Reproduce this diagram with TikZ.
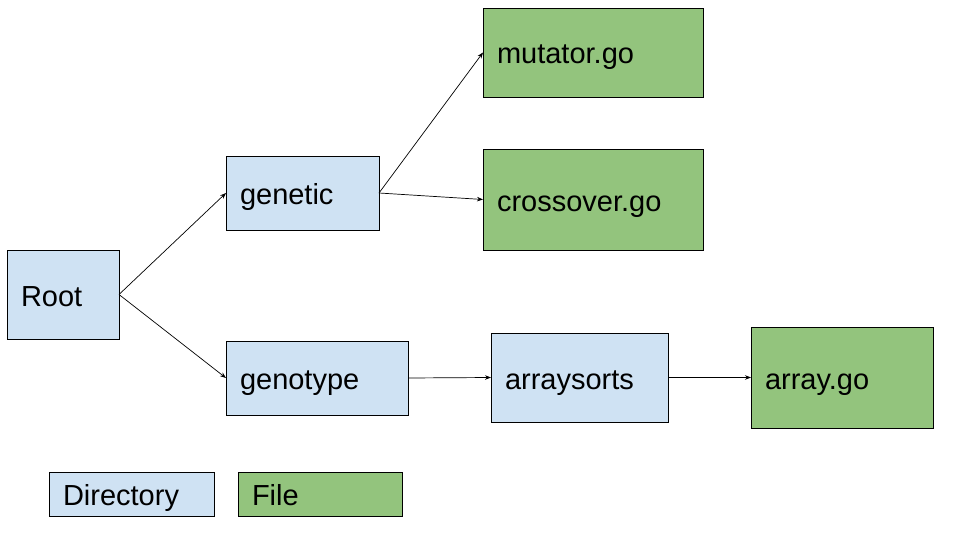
\documentclass[tikz,border=0pt]{standalone}
\usepackage{fontspec}
\setmainfont{Liberation Sans}
\usetikzlibrary{arrows.meta, positioning}
\definecolor{dirblue}{HTML}{CFE2F3}
\definecolor{filegreen}{HTML}{93C47D}

\begin{document}
\begin{tikzpicture}[
    x=1pt, y=-1pt,
    box/.style={draw, line width=0.8pt, anchor=north west, outer sep=0pt, inner xsep=14pt, text height=23pt, text depth=0pt, align=left, font=\fontsize{29}{33}\selectfont},
    dir/.style={box, fill=dirblue},
    file/.style={box, fill=filegreen},
    every edge/.style={draw, -{Stealth[length=6pt, width=4.5pt]}, line width=0.7pt}
]
    \useasboundingbox (0,0) rectangle (960,540);

    % Directories
    \node[dir, minimum width=112pt, minimum height=89pt, text width=84pt] (root) at (7,250) {Root};
    \node[dir, minimum width=153pt, minimum height=74pt, text width=125pt] (genetic) at (226,156) {genetic};
    \node[dir, minimum width=182pt, minimum height=74pt, text width=154pt] (genotype) at (226,341) {genotype};
    \node[dir, minimum width=177pt, minimum height=89pt, text width=149pt] (arraysorts) at (491,333) {arraysorts};

    % Files
    \node[file, minimum width=220pt, minimum height=89pt, text width=192pt] (mutator) at (483,8) {mutator.go};
    \node[file, minimum width=220pt, minimum height=101pt, text width=192pt] (crossover) at (483,149) {crossover.go};
    \node[file, minimum width=182pt, minimum height=101pt, text width=154pt] (arraygo) at (751,327) {array.go};

    % Arrows
    \draw (root.east) edge (genetic.west)
          (root.east) edge (genotype.west)
          (genetic.east) edge (mutator.west)
          (genetic.east) edge (crossover.west)
          (genotype.east) edge (arraysorts.west)
          (arraysorts.east) edge (arraygo.west);

    % Legend
    \node[dir, minimum width=165pt, minimum height=44pt, text width=137pt] (legdir) at (49,472) {Directory};
    \node[file, minimum width=164pt, minimum height=44pt, text width=136pt] (legfile) at (238,472) {File};
\end{tikzpicture}
\end{document}
